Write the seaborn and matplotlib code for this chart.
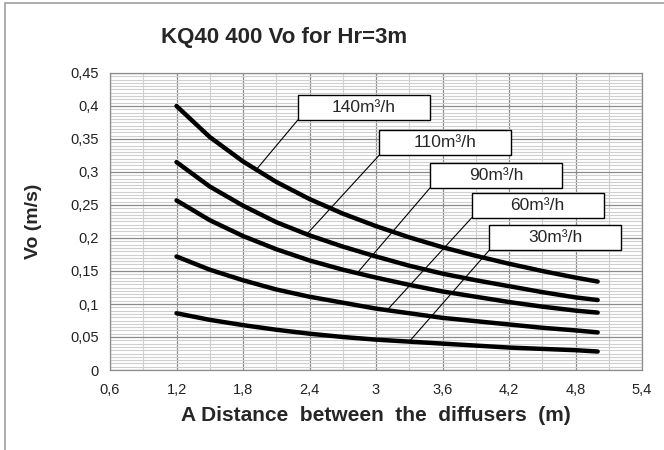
import matplotlib
matplotlib.use("Agg")
from matplotlib import pyplot as plt
from matplotlib.patches import Rectangle
from matplotlib.ticker import MultipleLocator
import seaborn as sns
import pandas as pd
import numpy as np

# values
distance = [1.2, 1.5, 1.8, 2.1, 2.4, 2.7, 3.0, 3.3, 3.6, 3.9, 4.2, 4.5, 4.8, 5.0]
vo_140 = [0.400, 0.353, 0.316, 0.285, 0.259, 0.237, 0.218, 0.201, 0.186, 0.173, 0.161, 0.150, 0.140, 0.134]
vo_110 = [0.315, 0.278, 0.249, 0.224, 0.204, 0.187, 0.172, 0.158, 0.146, 0.136, 0.127, 0.118, 0.110, 0.106]
vo_90 = [0.257, 0.227, 0.203, 0.183, 0.166, 0.152, 0.140, 0.129, 0.119, 0.111, 0.103, 0.096, 0.090, 0.087]
vo_60 = [0.172, 0.152, 0.136, 0.122, 0.111, 0.102, 0.093, 0.086, 0.079, 0.074, 0.069, 0.064, 0.060, 0.057]
vo_30 = [0.086, 0.076, 0.068, 0.061, 0.055, 0.050, 0.046, 0.043, 0.040, 0.037, 0.034, 0.032, 0.030, 0.028]

flows = ["140m³/h", "110m³/h", "90m³/h", "60m³/h", "30m³/h"]
series = [vo_140, vo_110, vo_90, vo_60, vo_30]

x_ticks = [0.6, 1.2, 1.8, 2.4, 3.0, 3.6, 4.2, 4.8, 5.4]
x_tick_labels = ["0,6", "1,2", "1,8", "2,4", "3", "3,6", "4,2", "4,8", "5,4"]
y_ticks = [0, 0.05, 0.1, 0.15, 0.2, 0.25, 0.3, 0.35, 0.4, 0.45]
y_tick_labels = ["0", "0,05", "0,1", "0,15", "0,2", "0,25", "0,3", "0,35", "0,4", "0,45"]

# label boxes: left x, top y, x where the leader meets the curve
label_left = [2.294, 3.03, 3.488, 3.864, 4.023]
label_top = [0.4167, 0.3636, 0.314, 0.2687, 0.2197]
leader_x = [1.92, 2.375, 2.83, 3.10, 3.30]
box_w = 1.19
box_h = 0.038

frames = []
for name, vals in zip(flows, series):
    frames.append(pd.DataFrame({"Distance": distance, "Vo": vals, "Flow": name}))
df = pd.concat(frames)

sns.set_style("white")
plt.rcParams["font.family"] = ["Liberation Sans", "DejaVu Sans"]

fig = plt.figure(figsize=(6.64, 4.5), dpi=100)
ax = fig.add_axes([110 / 664, 1 - 370 / 450, 532 / 664, 297 / 450])

sns.lineplot(data=df, x="Distance", y="Vo", hue="Flow",
             palette=["black"] * len(flows), linewidth=3.2, legend=False,
             ax=ax, zorder=3)

ax.set_xlim(0.6, 5.4)
ax.set_ylim(0, 0.45)
ax.set_xticks(x_ticks)
ax.set_xticklabels(x_tick_labels)
ax.set_yticks(y_ticks)
ax.set_yticklabels(y_tick_labels)
ax.xaxis.set_minor_locator(MultipleLocator(0.3))
ax.yaxis.set_minor_locator(MultipleLocator(0.005))
ax.grid(which="minor", color="#cfcfcf", linewidth=0.8)
ax.grid(which="major", color="#8c8c8c", linewidth=0.9)
ax.set_axisbelow(True)
ax.tick_params(which="both", length=0, labelsize=10.5, colors="#222222")
ax.tick_params(axis="x", pad=9)
ax.tick_params(axis="y", pad=8)
for s in ax.spines.values():
    s.set_color("#8c8c8c")
    s.set_linewidth(0.9)

ax.set_xlabel("A Distance  between  the  diffusers  (m)", fontsize=15,
              fontweight="bold", labelpad=7)
ax.set_ylabel("Vo (m/s)", fontsize=14, fontweight="bold", labelpad=20)
fig.text(284 / 664, 1 - 37 / 450, "KQ40 400 Vo for Hr=3m", fontsize=16,
         fontweight="bold", ha="center", va="center")

# boxed labels with leader lines
for name, vals, lx, ty, cx in zip(flows, series, label_left, label_top, leader_x):
    cy = np.interp(cx, distance, vals)
    ax.plot([lx, cx], [ty - box_h, cy], color="black", linewidth=0.8, zorder=4)
    ax.add_patch(Rectangle((lx, ty - box_h), box_w, box_h, facecolor="white",
                           edgecolor="black", linewidth=1.0, zorder=5))
    ax.text(lx + box_w / 2, ty - box_h / 2, name, fontsize=12.5,
            ha="center", va="center", zorder=6)

# outer chart frame
fig.patches.append(Rectangle((5 / 664, -0.1), 1.2, 1.1 - 3 / 450,
                             transform=fig.transFigure, fill=False,
                             edgecolor="#a0a0a0", linewidth=1.2))

fig.savefig("out.png", dpi=100)
